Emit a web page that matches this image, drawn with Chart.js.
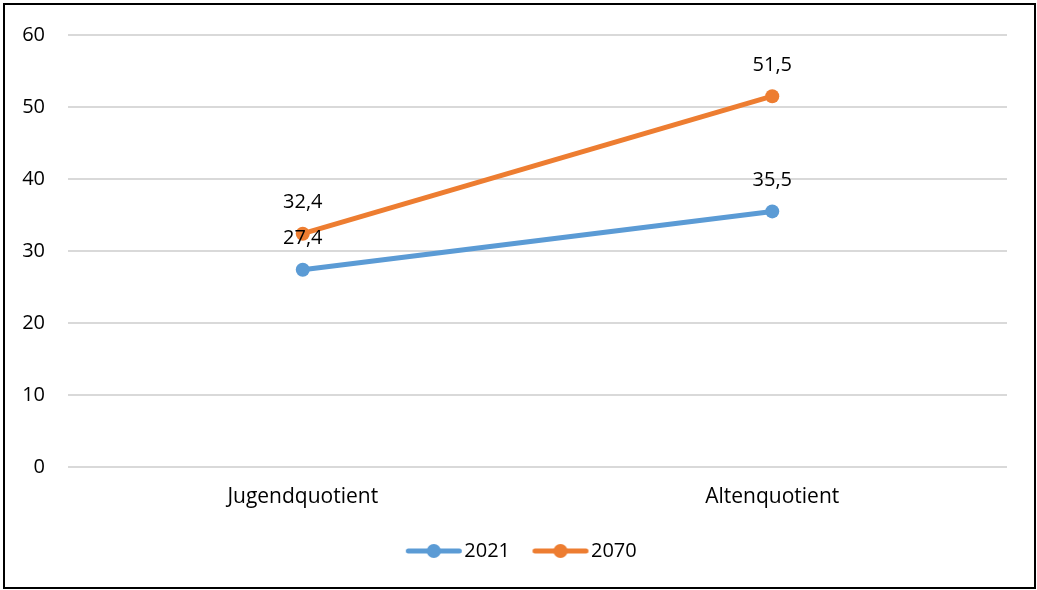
<!DOCTYPE html>
<html><head><meta charset="utf-8">
<script src="https://cdn.jsdelivr.net/npm/chart.js@4"></script>
<style>html,body{margin:0;padding:0;background:#fff}#wrap{width:1037px;height:590px;position:relative}</style>
</head><body><div id="wrap"><canvas id="c" width="1037" height="590"></canvas></div>
<script>
const categories = ["Jugendquotient", "Altenquotient"];
const series2021 = [27.4, 35.5];
const series2070 = [32.4, 51.5];
const seriesNames = ["2021", "2070"];
const yTicks = [0, 10, 20, 30, 40, 50, 60];
const colors = ["#5B9BD5", "#ED7D31"];
const FONT = "'Open Sans'";
const FS = 20;

function legendIcon(color) {
  const c = document.createElement('canvas');
  c.width = 60; c.height = 16;
  const g = c.getContext('2d');
  g.strokeStyle = color; g.lineWidth = 5; g.lineCap = 'round';
  g.beginPath(); g.moveTo(4.5, 8); g.lineTo(55.5, 8); g.stroke();
  g.fillStyle = color; g.beginPath(); g.arc(30, 8, 7, 0, Math.PI * 2); g.fill();
  return c;
}

const frame = {
  id: 'frame',
  afterLayout(chart) {
    if (chart.legend) { chart.legend.left = 13; chart.legend.right = 1037; }
  },
  afterDraw(chart) {
    const ctx = chart.ctx;
    ctx.save(); ctx.strokeStyle = '#000'; ctx.lineWidth = 2;
    ctx.strokeRect(4, 4, 1031, 584); ctx.restore();
  }
};
const dataLabels = {
  id: 'dataLabels',
  afterDatasetsDraw(chart) {
    const ctx = chart.ctx;
    ctx.save();
    ctx.font = FS + 'px ' + FONT; ctx.fillStyle = '#000';
    ctx.textAlign = 'center'; ctx.textBaseline = 'middle';
    chart.data.datasets.forEach((ds, i) => {
      chart.getDatasetMeta(i).data.forEach((pt, j) => {
        ctx.fillText(String(ds.data[j]).replace('.', ','), pt.x, pt.y - 31);
      });
    });
    ctx.restore();
  }
};

new Chart(document.getElementById('c'), {
  type: 'line',
  data: {
    labels: categories,
    datasets: [
      { label: seriesNames[0], data: series2021, borderColor: colors[0], backgroundColor: colors[0], borderWidth: 5, pointRadius: 7, pointHoverRadius: 7, pointBackgroundColor: colors[0], pointBorderWidth: 0 },
      { label: seriesNames[1], data: series2070, borderColor: colors[1], backgroundColor: colors[1], borderWidth: 5, pointRadius: 7, pointHoverRadius: 7, pointBackgroundColor: colors[1], pointBorderWidth: 0 }
    ]
  },
  options: {
    responsive: false, animation: false,
    layout: { padding: { top: 26, right: 30, bottom: 19, left: 0 } },
    plugins: {
      tooltip: { enabled: false },
      legend: {
        position: 'bottom',
        labels: {
          font: { family: FONT, size: FS }, color: '#000',
          usePointStyle: true, pointStyleWidth: 41, padding: 30,
          generateLabels(chart) {
            const items = Chart.defaults.plugins.legend.labels.generateLabels(chart);
            items.forEach((it, i) => { it.pointStyle = legendIcon(colors[i]); });
            return items;
          }
        }
      }
    },
    scales: {
      x: {
        offset: true,
        grid: { display: false }, border: { display: false },
        ticks: { font: { family: FONT, size: 21 }, color: '#000', padding: 9 },
        afterFit(s) { s.height = 44; }
      },
      y: {
        min: 0, max: 60,
        afterBuildTicks(s) { s.ticks = yTicks.map(v => ({ value: v })); },
        afterFit(s) { s.width = 68; },
        grid: { color: '#d9d9d9', lineWidth: 2, drawTicks: false },
        border: { display: false },
        ticks: { font: { family: FONT, size: FS }, color: '#000', padding: 23 }
      }
    }
  },
  plugins: [frame, dataLabels]
});
</script></body></html>
